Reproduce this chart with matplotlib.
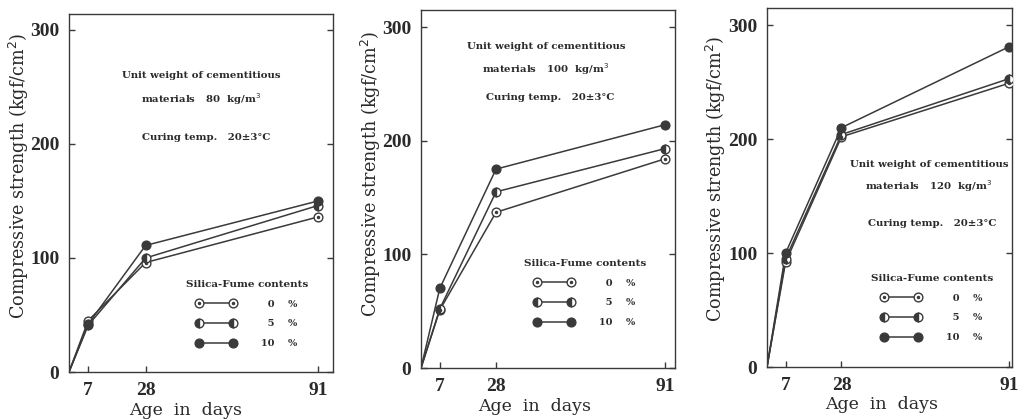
import matplotlib
matplotlib.use("Agg")
import matplotlib.pyplot as plt
from matplotlib.lines import Line2D
from matplotlib.legend_handler import HandlerTuple

W, H = 1026, 419
plt.rcParams['font.family'] = ['DejaVu Serif']

days = [0, 7, 28, 91]
xticks = [7, 28, 91]
yticks = [0, 100, 200, 300]

# panel data: unit weight 80, 100, 120 kg/m3
sf0 = [[0, 45, 96, 136], [0, 51, 137, 184], [0, 92, 202, 249]]
sf5 = [[0, 41, 100, 146], [0, 52, 155, 193], [0, 95, 204, 253]]
sf10 = [[0, 42, 111, 150], [0, 70, 175, 214], [0, 100, 210, 281]]
unit_weights = ["80", "100", "120"]
legend_labels = ["  0    %", "  5    %", "10    %"]

LC = "#3a3a3a"
TC = "#2a2a2a"

fig = plt.figure(figsize=(W / 100, H / 100), dpi=100)

# axes pixel boxes: (x0, x1, ytop, ybottom), xlim right, ylim top
boxes = [(69, 333, 14, 372, 96.5, 314),
         (421, 675, 10, 368, 94.8, 315),
         (767, 1012, 8, 367, 92.1, 315)]
ylabel_x = [19, 371, 716]
ylabel_y = [176, 174, 179]
xlabel_pos = [(186, 410), (535, 406), (882, 404)]
ann_pos = [[(201, 76), (201, 99), (206, 137)],
           [(546, 46), (545, 69), (550, 97)],
           [(929, 164), (928, 186), (932, 223)]]
leg_pos = [(247, 314), (585, 293), (932, 308)]

def fx(x):
    return x / W

def fy(y):
    return 1 - y / H

MS = 6.3
for i in range(3):
    x0, x1, yt, yb, xr, yr = boxes[i]
    ax = fig.add_axes([fx(x0), fy(yb), (x1 - x0) / W, (yb - yt) / H])
    ax.set_xlim(0, xr)
    ax.set_ylim(0, yr)
    for s in ax.spines.values():
        s.set_linewidth(1.0)
        s.set_color(LC)
    ax.set_xticks(xticks)
    ax.set_yticks(yticks)
    ax.tick_params(direction='in', length=4, width=1, color=LC,
                   labelsize=14, labelcolor=TC, right=True, top=False, pad=7)
    for lab in ax.get_xticklabels() + ax.get_yticklabels():
        lab.set_fontweight('bold')
        lab.set_family('Liberation Serif')

    mk = dict(marker='o', ms=MS, mew=1.0, mec=LC, color=LC, lw=1.1)
    l0, = ax.plot(days[1:], sf0[i][1:], mfc='white', **mk)
    ax.plot(days[:2], sf0[i][:2], color=LC, lw=1.1)
    d0, = ax.plot(days[1:], sf0[i][1:], ls='none', marker='o', ms=1.5, color=LC)
    l5, = ax.plot(days[1:], sf5[i][1:], fillstyle='left', mfc=LC, mfcalt='white', **mk)
    ax.plot(days[:2], sf5[i][:2], color=LC, lw=1.1)
    l10, = ax.plot(days[1:], sf10[i][1:], mfc=LC, **mk)
    ax.plot(days[:2], sf10[i][:2], color=LC, lw=1.1)
    for ln in (l0, l5, l10):
        ln.set_zorder(3)
    d0.set_zorder(4)

    ax.set_ylabel("Compressive strength (kgf/cm$^2$)", fontsize=12.7, color=TC)
    ax.yaxis.label.set_va('center')
    ax.yaxis.set_label_coords((ylabel_x[i] - x0) / (x1 - x0),
                              (yb - ylabel_y[i]) / (yb - yt))
    ax.set_xlabel("Age  in  days", fontsize=12.5, color=TC)
    ax.xaxis.label.set_va('center')
    ax.xaxis.set_label_coords((xlabel_pos[i][0] - x0) / (x1 - x0),
                              (yb - xlabel_pos[i][1]) / (yb - yt))

    texts = ["Unit weight of cementitious",
             "materials   %s  kg/m$^3$" % unit_weights[i],
             "Curing temp.   20±3°C"]
    for t, (px, py) in zip(texts, ann_pos[i]):
        fig.text(fx(px), fy(py), t, fontsize=7.3, fontweight='bold', color=TC,
                 ha='center', va='center')

    h0 = Line2D([], [], marker='o', ms=MS, mew=1.0, mec=LC, mfc='white', color=LC, lw=1.1)
    h0d = Line2D([], [], ls='none', marker='o', ms=1.5, color=LC)
    h5 = Line2D([], [], marker='o', ms=MS, mew=1.0, mec=LC, fillstyle='left',
                mfc=LC, mfcalt='white', color=LC, lw=1.1)
    h10 = Line2D([], [], marker='o', ms=MS, mew=1.0, mec=LC, mfc=LC, color=LC, lw=1.1)
    leg = ax.legend([(h0, h0d), h5, h10], legend_labels,
                    handler_map={tuple: HandlerTuple(ndivide=1, pad=0)},
                    title="Silica-Fume contents", frameon=False, numpoints=2,
                    handlelength=4.1, handletextpad=2.6, labelspacing=1.12,
                    loc='center', bbox_to_anchor=(fx(leg_pos[i][0]), fy(leg_pos[i][1])),
                    bbox_transform=fig.transFigure,
                    prop={'size': 7, 'weight': 'bold'})
    leg.get_title().set_fontsize(7.5)
    leg.get_title().set_fontweight('bold')
    leg.get_title().set_color(TC)
    for t in leg.get_texts():
        t.set_color(TC)

fig.savefig("out.png", dpi=100)
